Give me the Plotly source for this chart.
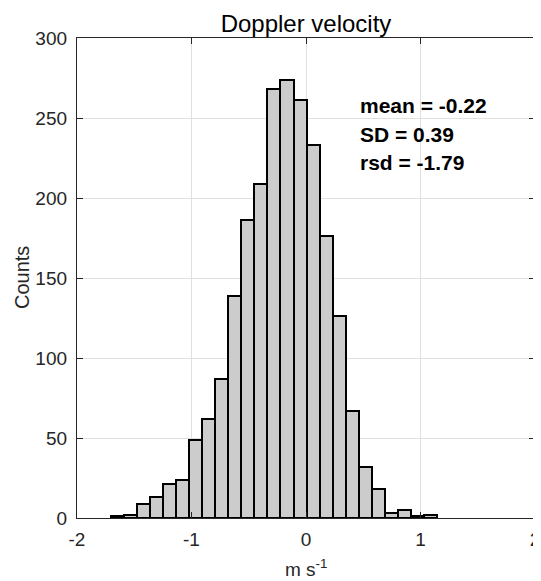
import plotly.graph_objects as go

# Histogram
bin_start = -1.705
bin_width = 0.114
counts = [1, 2, 9, 13, 21, 24, 49, 62, 87, 139, 186, 209, 268, 274, 261,
          233, 176, 126, 67, 32, 18, 3, 5, 1, 2]
stat_labels = ["mean = -0.22", "SD = 0.39", "rsd = -1.79"]
stat_y = [258, 240, 222]
stat_x = 0.457
x_tickvals = [-2, -1, 0, 1, 2]
x_ticktext = ["-2", "-1", "0", "1", "2"]
y_tickvals = [0, 50, 100, 150, 200, 250, 300]

centers = [bin_start + bin_width * (i + 0.5) for i in range(len(counts))]

FONT = "Liberation Sans, Arial, Helvetica"
INK = "#262626"

# the page body adds an 8 px offset, so the figure is 8 px smaller
W, H = 533, 573

fig = go.Figure()
fig.add_trace(go.Bar(
    x=centers, y=counts, width=bin_width,
    marker=dict(color="#cccccc", line=dict(color="#000000", width=2)),
    showlegend=False,
))

for t, yv in zip(stat_labels, stat_y):
    fig.add_annotation(x=stat_x, y=yv, text="<b>%s</b>" % t, showarrow=False,
                       xanchor="left", yanchor="middle",
                       font=dict(family=FONT, size=21, color="#000000"))

# axis titles
fig.add_annotation(xref="paper", yref="paper", x=0.5, y=0, yshift=-50,
                   text="m s<sup>-1</sup>", showarrow=False,
                   xanchor="center", yanchor="middle",
                   font=dict(family=FONT, size=19, color=INK))
fig.add_annotation(xref="paper", yref="paper", x=0, y=0.5, xshift=-55,
                   text="Counts", showarrow=False, textangle=-90,
                   xanchor="center", yanchor="middle",
                   font=dict(family=FONT, size=20, color=INK))

axis_common = dict(
    showline=True, linecolor=INK, linewidth=1.3, mirror="ticks",
    ticks="inside", ticklen=6, tickcolor=INK, tickwidth=1.3,
    showgrid=True, gridcolor="#e0e0e0", gridwidth=1.3,
    zeroline=False, automargin=False, ticklabeloverflow="allow",
    tickfont=dict(family=FONT, size=19, color=INK),
)

fig.update_layout(
    width=W, height=H,
    margin=dict(l=69, r=6, t=30, b=63),
    paper_bgcolor="white", plot_bgcolor="white",
    bargap=0,
    title=dict(text="Doppler velocity", x=0.5, xanchor="center", xref="paper",
               y=1 - 16 / H, yanchor="middle",
               font=dict(family=FONT, size=24, color="#000000")),
    xaxis=dict(range=[-2, 2], tickmode="array", tickvals=x_tickvals,
               ticktext=x_ticktext, ticklabelstandoff=4, **axis_common),
    yaxis=dict(range=[0, 300], tickmode="array", tickvals=y_tickvals,
               ticklabelstandoff=5, **axis_common),
)

fig.write_html("out.html")
